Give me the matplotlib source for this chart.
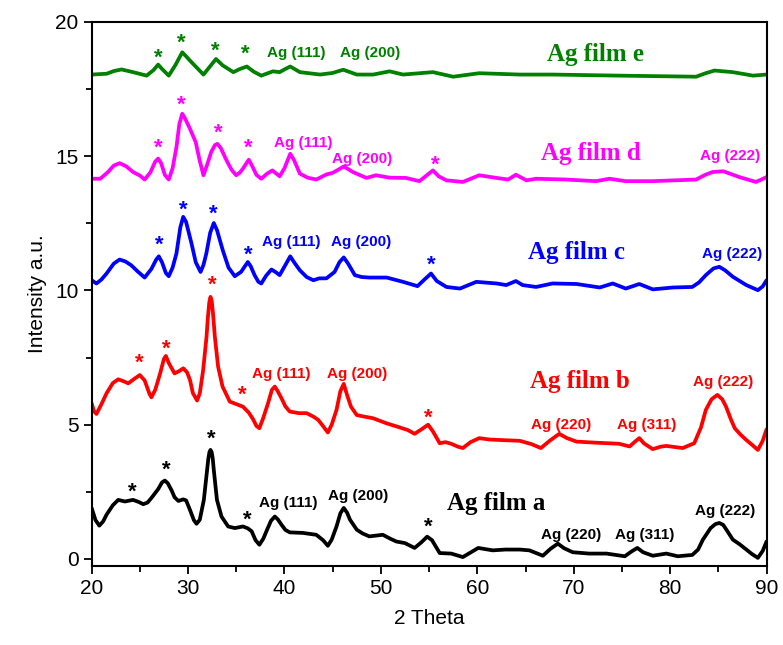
import matplotlib
matplotlib.use("Agg")
import matplotlib.pyplot as plt
from matplotlib.ticker import MultipleLocator

x_a = [20.0, 20.4, 20.8, 21.2, 21.55, 22.2, 22.76, 23.45, 24.3, 24.9, 25.35, 25.8, 26.2, 26.9,
       27.3, 27.6, 27.9, 28.3, 28.6, 29.0, 29.5, 29.8, 30.2, 30.6, 30.88, 31.22, 31.64, 31.98,
       32.1, 32.22, 32.33, 32.45, 32.56, 32.67, 33.0, 33.47, 34.16, 34.85, 35.7, 36.2, 36.6,
       37.0, 37.4, 37.8, 38.2, 38.6, 39.0, 39.3, 39.7, 40.1, 40.55, 41.9, 43.3, 44.0, 44.5,
       44.9, 45.4, 45.8, 46.15, 46.5, 46.8, 47.5, 48.1, 48.8, 49.5, 50.2, 51.0, 51.6, 52.5,
       53.5, 54.2, 54.8, 55.3, 56.1, 57.3, 58.5, 60.1, 61.6, 62.9, 64.4, 65.4, 66.8, 67.6,
       68.35, 69.0, 69.9, 71.6, 73.4, 75.3, 76.0, 76.6, 77.2, 78.2, 79.6, 80.8, 82.3, 82.9,
       83.4, 84.2, 84.7, 85.1, 85.5, 86.0, 86.5, 87.2, 87.9, 88.5, 89.1, 89.6, 90.0]
y_a = [1.90, 1.45, 1.24, 1.40, 1.65, 2.00, 2.20, 2.14, 2.20, 2.12, 2.04, 2.10, 2.27, 2.60,
       2.85, 2.92, 2.82, 2.55, 2.30, 2.16, 2.22, 2.18, 1.83, 1.45, 1.31, 1.46, 2.20, 3.32,
       3.72, 3.98, 4.06, 3.98, 3.75, 3.32, 2.20, 1.58, 1.21, 1.15, 1.21, 1.14, 1.03,
       0.70, 0.53, 0.75, 1.09, 1.42, 1.58, 1.48, 1.27, 1.08, 0.99, 0.97, 0.90, 0.70, 0.49,
       0.72, 1.21, 1.70, 1.90, 1.72, 1.46, 1.09, 0.95, 0.84, 0.87, 0.90, 0.75, 0.65, 0.59,
       0.41, 0.62, 0.83, 0.70, 0.22, 0.20, 0.07, 0.41, 0.32, 0.35, 0.35, 0.32, 0.12, 0.38,
       0.57, 0.40, 0.25, 0.20, 0.20, 0.10, 0.28, 0.41, 0.25, 0.12, 0.20, 0.10, 0.15, 0.35,
       0.72, 1.15, 1.30, 1.34, 1.27, 1.00, 0.72, 0.55, 0.35, 0.18, 0.04, 0.30, 0.65]

x_b = [20.0, 20.25, 20.5, 21.0, 21.55, 22.2, 22.76, 23.3, 23.8, 24.4, 25.0, 25.5, 26.0, 26.2,
       26.6, 27.1, 27.5, 27.7, 28.0, 28.6, 29.1, 29.5, 29.9, 30.2, 30.5, 30.94, 31.22, 31.57,
       31.92, 32.05, 32.2, 32.33, 32.46, 32.6, 32.78, 33.12, 33.58, 34.33, 35.2, 35.7, 36.3,
       36.75, 37.1, 37.4, 37.8, 38.3, 38.7, 39.0, 39.3, 39.7, 40.1, 40.55, 41.5, 42.3, 43.0,
       43.5, 44.0, 44.5, 44.9, 45.4, 45.8, 46.15, 46.5, 46.9, 47.5, 48.3, 49.2, 50.6, 51.95,
       52.8, 53.5, 54.3, 54.9, 55.4, 56.1, 56.7, 57.3, 58.0, 58.5, 59.3, 60.2, 61.2, 62.3,
       64.4, 65.6, 66.6, 67.5, 68.5, 69.3, 70.3, 72.3, 74.7, 75.8, 76.3, 76.8, 77.3, 78.2,
       79.0, 79.6, 81.3, 82.5, 83.2, 83.7, 84.3, 84.9, 85.4, 85.8, 86.3, 86.7, 87.3, 87.9,
       88.5, 89.1, 89.6, 90.0]
y_b = [5.80, 5.50, 5.40, 5.75, 6.17, 6.55, 6.69, 6.62, 6.54, 6.70, 6.85, 6.65, 6.15, 6.02,
       6.30, 6.90, 7.45, 7.56, 7.30, 6.91, 7.00, 7.10, 6.95, 6.67, 6.18, 5.90, 6.17, 7.04,
       8.28, 8.95, 9.55, 9.76, 9.60, 9.10, 8.28, 7.16, 6.42, 5.86, 5.74, 5.67, 5.45,
       5.20, 4.95, 4.87, 5.25, 5.80, 6.30, 6.42, 6.25, 5.98, 5.68, 5.49, 5.43, 5.43, 5.30,
       5.18, 4.95, 4.71, 5.00, 5.55, 6.25, 6.52, 6.10, 5.67, 5.36, 5.30, 5.24, 5.05, 4.90,
       4.80, 4.66, 4.85, 5.00, 4.75, 4.31, 4.35, 4.29, 4.18, 4.13, 4.35, 4.50, 4.45, 4.43,
       4.40, 4.28, 4.13, 4.40, 4.66, 4.50, 4.37, 4.33, 4.29, 4.19, 4.35, 4.50, 4.30, 4.09,
       4.18, 4.21, 4.13, 4.31, 4.90, 5.55, 5.95, 6.11, 5.95, 5.67, 5.20, 4.87, 4.63, 4.43,
       4.25, 4.06, 4.40, 4.83]

x_c = [20.0, 20.5, 21.0, 21.55, 22.3, 22.9, 23.5, 24.1, 24.8, 25.5, 26.2, 26.7, 26.97, 27.3,
       27.7, 28.0, 28.4, 28.8, 29.2, 29.5, 29.8, 30.36, 30.8, 31.3, 31.6, 31.9, 32.3, 32.67,
       33.0, 33.6, 34.2, 34.85, 35.5, 36.2, 36.5, 36.9, 37.3, 37.6, 38.1, 38.65, 39.1, 39.5,
       40.1, 40.6, 41.0, 41.6, 42.3, 43.0, 43.6, 44.35, 45.2, 45.7, 46.15, 46.6, 47.3, 48.0,
       48.8, 50.6, 52.3, 53.8, 54.5, 55.2, 55.8, 56.8, 58.2, 59.9, 62.0, 63.0, 64.0, 64.7,
       66.1, 67.8, 70.3, 72.7, 74.05, 75.4, 76.8, 78.2, 80.3, 82.3, 83.0, 83.7, 84.5, 85.1,
       85.7, 86.5, 87.9, 89.1, 89.6, 90.0]
y_c = [10.38, 10.26, 10.40, 10.63, 11.00, 11.15, 11.08, 10.94, 10.70, 10.48, 10.80, 11.15,
       11.27, 11.05, 10.65, 10.53, 10.85, 11.38, 12.35, 12.74, 12.55, 11.75, 11.05, 10.69,
       10.95, 11.38, 12.15, 12.51, 12.25, 11.50, 10.85, 10.53, 10.69, 11.06, 10.90, 10.57,
       10.32, 10.26, 10.55, 10.78, 10.68, 10.57, 10.95, 11.27, 11.05, 10.75, 10.50, 10.38,
       10.45, 10.45, 10.69, 11.05, 11.23, 11.00, 10.57, 10.50, 10.48, 10.48, 10.32, 10.16,
       10.40, 10.63, 10.35, 10.13, 10.07, 10.32, 10.26, 10.20, 10.35, 10.20, 10.13, 10.26,
       10.24, 10.11, 10.26, 10.07, 10.24, 10.04, 10.11, 10.13, 10.30, 10.57, 10.82, 10.88,
       10.75, 10.51, 10.20, 10.01, 10.15, 10.38]

x_d = [20.0, 20.9, 21.7, 22.3, 22.9, 23.6, 24.3, 25.0, 25.5, 26.1, 26.6, 26.9, 27.2, 27.6,
       28.0, 28.4, 28.8, 29.1, 29.4, 29.7, 30.2, 30.8, 31.2, 31.6, 32.0, 32.4, 32.8, 33.05,
       33.4, 34.0, 34.5, 35.0, 35.4, 35.7, 36.3, 36.7, 37.1, 37.6, 38.2, 38.75, 39.5, 40.0,
       40.6, 41.0, 41.6, 42.4, 43.3, 44.35, 45.0, 45.6, 46.15, 47.1, 48.5, 49.5, 50.9, 52.6,
       54.0, 54.8, 55.4, 56.0, 56.8, 58.5, 60.2, 62.0, 63.2, 64.0, 65.1, 66.1, 69.2, 72.3,
       73.7, 75.4, 78.2, 82.7, 83.6, 84.4, 85.5, 87.2, 88.9, 90.0]
y_d = [14.16, 14.16, 14.41, 14.65, 14.74, 14.62, 14.41, 14.28, 14.13, 14.40, 14.80, 14.91,
       14.75, 14.30, 14.13, 14.55, 15.34, 16.20, 16.58, 16.40, 16.02, 15.52, 14.85, 14.29,
       14.70, 15.15, 15.42, 15.46, 15.30, 14.84, 14.50, 14.29, 14.40, 14.54, 14.87, 14.60,
       14.30, 14.16, 14.35, 14.47, 14.25, 14.55, 15.09, 14.85, 14.35, 14.20, 14.13, 14.32,
       14.38, 14.50, 14.62, 14.41, 14.19, 14.29, 14.20, 14.19, 14.07, 14.30, 14.47, 14.25,
       14.10, 14.04, 14.29, 14.19, 14.13, 14.31, 14.10, 14.16, 14.13, 14.07, 14.16, 14.07,
       14.07, 14.13, 14.30, 14.41, 14.44, 14.22, 14.04, 14.22]

x_e = [20.0, 21.55, 22.3, 23.1, 24.3, 25.7, 26.4, 26.9, 27.3, 28.0, 28.7, 29.4, 29.8, 30.2,
       30.9, 31.6, 32.3, 32.9, 33.6, 34.7, 35.4, 36.1, 36.8, 37.6, 38.8, 39.5, 40.1, 40.6,
       41.6, 43.7, 45.0, 46.1, 47.5, 49.2, 50.9, 52.3, 55.4, 57.5, 60.2, 64.4, 67.8, 74.7,
       82.7, 83.6, 84.6, 86.5, 88.6, 90.0]
y_e = [18.04, 18.07, 18.17, 18.23, 18.13, 18.00, 18.20, 18.41, 18.25, 18.00, 18.40, 18.87,
       18.72, 18.56, 18.30, 18.04, 18.35, 18.62, 18.38, 18.13, 18.25, 18.34, 18.15, 18.00,
       18.16, 18.13, 18.25, 18.34, 18.13, 18.04, 18.10, 18.22, 18.04, 18.04, 18.16, 18.04,
       18.13, 17.96, 18.09, 18.04, 18.04, 18.00, 17.96, 18.08, 18.19, 18.13, 18.00, 18.04]

films = ["Ag film a", "Ag film b", "Ag film c", "Ag film d", "Ag film e"]
colors = ["black", "#ff0000", "#0000ff", "#ff00ff", "#008000"]

# peak labels: (text, x, y) per film
labels_a = [("*", 24.2, 2.5), ("*", 27.7, 3.3), ("*", 32.4, 4.45), ("*", 36.1, 1.45),
            ("Ag (111)", 40.4, 2.07), ("Ag (200)", 47.6, 2.35), ("*", 54.9, 1.2),
            ("Ag (220)", 69.7, 0.9), ("Ag (311)", 77.4, 0.9), ("Ag (222)", 85.7, 1.8)]
labels_b = [("*", 24.9, 7.3), ("*", 27.7, 7.8), ("*", 32.5, 10.2), ("*", 35.6, 6.1),
            ("Ag (111)", 39.7, 6.9), ("Ag (200)", 47.5, 6.9), ("*", 54.9, 5.25),
            ("Ag (220)", 68.7, 5.0), ("Ag (311)", 77.6, 5.0), ("Ag (222)", 85.5, 6.6)]
labels_c = [("*", 27.0, 11.7), ("*", 29.5, 13.0), ("*", 32.6, 12.85), ("*", 36.2, 11.3),
            ("Ag (111)", 40.7, 11.8), ("Ag (200)", 47.9, 11.8), ("*", 55.2, 10.95),
            ("Ag (222)", 86.4, 11.35)]
labels_d = [("*", 26.9, 15.3), ("*", 29.35, 16.9), ("*", 33.1, 15.85), ("*", 36.3, 15.3),
            ("Ag (111)", 41.9, 15.5), ("Ag (200)", 48.1, 14.9), ("*", 55.6, 14.65),
            ("Ag (222)", 86.2, 15.0)]
labels_e = [("*", 26.9, 18.65), ("*", 29.35, 19.2), ("*", 32.8, 18.9), ("*", 35.9, 18.8),
            ("Ag (111)", 41.2, 18.85), ("Ag (200)", 48.9, 18.85)]
name_pos = [(62.0, 2.07), (70.6, 6.6), (70.3, 11.4), (71.8, 15.1), (72.3, 18.8)]

xs = [x_a, x_b, x_c, x_d, x_e]
ys = [y_a, y_b, y_c, y_d, y_e]
all_labels = [labels_a, labels_b, labels_c, labels_d, labels_e]

fig = plt.figure(figsize=(7.83, 6.45), dpi=100)
ax = fig.add_axes([0.117, 0.123, 0.862, 0.843])

for i in range(5):
    ax.plot(xs[i], ys[i], color=colors[i], lw=2.7, solid_joinstyle="round",
            solid_capstyle="round")
    for txt, tx, ty in all_labels[i]:
        if txt == "*":
            ax.text(tx, ty, txt, color=colors[i], fontsize=16, fontweight="bold",
                    ha="center", va="center", family="Liberation Sans")
        else:
            ax.text(tx, ty, txt, color=colors[i], fontsize=11, fontweight="bold",
                    ha="center", va="center", family="Liberation Sans")
    ax.text(name_pos[i][0], name_pos[i][1], films[i], color=colors[i], fontsize=18,
            fontweight="bold", ha="center", va="center", family="Liberation Serif")

ax.set_xlim(20, 90)
ax.set_ylim(-0.25, 20)
ax.xaxis.set_major_locator(MultipleLocator(10))
ax.xaxis.set_minor_locator(MultipleLocator(5))
ax.yaxis.set_major_locator(MultipleLocator(5))
ax.yaxis.set_minor_locator(MultipleLocator(2.5))
ax.tick_params(which="major", direction="out", length=6, width=1.3, labelsize=15)
ax.tick_params(which="minor", direction="out", length=4, width=1.3)
for lab in ax.get_xticklabels() + ax.get_yticklabels():
    lab.set_family("Liberation Sans")
for sp in ax.spines.values():
    sp.set_linewidth(1.5)

ax.set_xlabel("2 Theta", fontsize=15, family="Liberation Sans", labelpad=8)
ax.set_ylabel("Intensity a.u.", fontsize=15, family="Liberation Sans", labelpad=6)

fig.savefig("out.png", dpi=100)
